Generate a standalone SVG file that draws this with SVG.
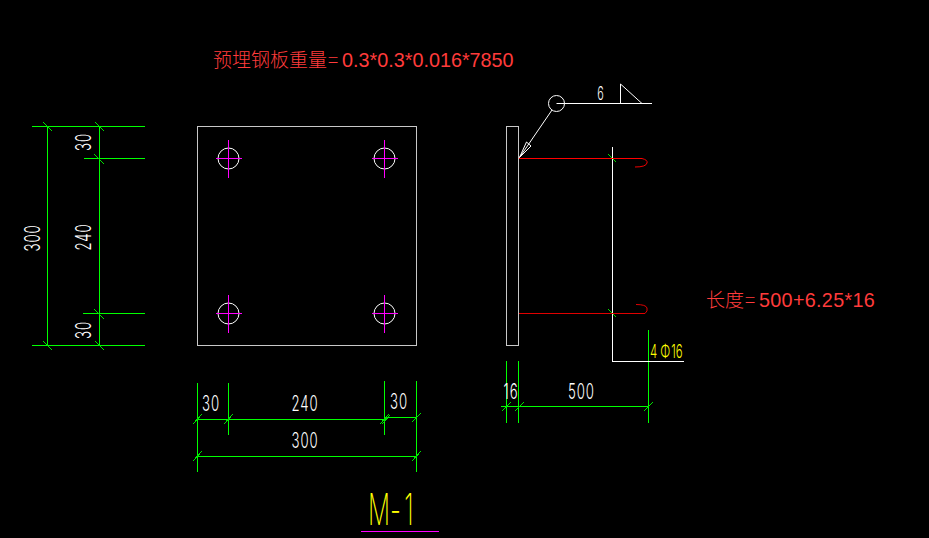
<svg xmlns="http://www.w3.org/2000/svg" width="929" height="538" viewBox="0 0 929 538">
<style>
.g{stroke:#00ff00;stroke-width:1;fill:none;shape-rendering:crispEdges}
.t{stroke:#00e000;stroke-width:1;fill:none;shape-rendering:crispEdges}
.w{stroke:#fff;stroke-width:1;fill:none;shape-rendering:crispEdges}
.p{stroke:#c8c8c8;stroke-width:1;fill:none;shape-rendering:crispEdges}
.m{stroke:#ff00ff;stroke-width:1;fill:none;shape-rendering:crispEdges}
.h{stroke:#fff;stroke-width:1;fill:none}
.d{font-family:"Inter","Liberation Sans",sans-serif;font-weight:300;font-size:22px;letter-spacing:1.5px;fill:#fff;text-anchor:middle}
.y{font-family:"Inter","Liberation Sans",sans-serif;font-weight:300;fill:#ffff00}
.r{font-family:"Liberation Sans","Noto Sans CJK SC",sans-serif;font-size:19.8px;fill:#ff3b3b}
.c{font-family:"Noto Sans CJK SC",sans-serif;font-size:19px;font-weight:300;fill:#ff3b3b}
</style>
<defs>
<g id="hole">
<circle r="10.5" class="h"/>
<path d="M-12.5 0H13.5M0 -18.5V19.5" class="m"/>
</g>
</defs>
<rect width="929" height="538" fill="#000"/>
<g id="connectors">
<path class="g" d="M32 126.5H145M84 158.5H145M83 313.5H145M32 345.5H145M47.5 126V346M99.5 126V346"/>
<path class="t" d="M43 122L52 131M95 122L104 131M94 154L104 164M94 309L104 319M43 341L52 350M95 341L104 350"/>
<path class="g" d="M197.5 383V472M228.5 383V435M384.5 381V435M416.5 381V472M197 419.5H385M385 417.5H417M197 456.5H417"/>
<path class="t" d="M193 424L202 414M224 424L233 414M380 424L389 414M382 424L390 415M412 422L421 413M193 461L202 451M412 461L421 451"/>
<path class="g" d="M506.5 361V423M518.5 361V423M648.5 330V423M501 406.5H649"/>
<path class="t" d="M502 411L511 402M515 411L524 402M644 411L653 402"/>
<path class="w" d="M612.5 147V361.5H684"/>
<path class="t" d="M608 154L616 162M608 309L616 317"/>
<path d="M519 158.5H642" stroke="#ff0000" stroke-width="1.4" fill="none" shape-rendering="crispEdges"/>
<path d="M642 158.5Q648 160 647 163Q646 167 635 167" stroke="#f00000" fill="none"/>
<path d="M519 313.5H645Q648 311 647 308Q646 304.5 636 304.5" stroke="#e00000" fill="none"/>
<path class="h" d="M556.5 103.5H652M620.5 84V103.500M620.5 84L642 103.5M552 110L519.5 157.5L526.5 142L531 146L519.5 157.5"/>
<path d="M361 531.5H439" class="m"/>
</g>
<g id="plate-front"><rect x="197.5" y="126.5" width="219" height="219" class="p"/></g>
<g id="plate-side"><rect x="506.5" y="126.5" width="12" height="219" class="p"/></g>
<g id="holes">
<use href="#hole" x="228.5" y="158.5"/>
<use href="#hole" x="384.5" y="158.5"/>
<use href="#hole" x="228.5" y="313.5"/>
<use href="#hole" x="384.5" y="313.5"/>
</g>
<g id="weld-circle"><circle cx="556.5" cy="103.5" r="8" class="h"/></g>
<g id="labels">
<text class="d" transform="translate(40,238) rotate(-90) scale(.6,1)">300</text>
<text class="d" transform="translate(91,142) rotate(-90) scale(.6,1)">30</text>
<text class="d" transform="translate(91,237) rotate(-90) scale(.6,1)">240</text>
<text class="d" transform="translate(91,330) rotate(-90) scale(.6,1)">30</text>
<text class="d" transform="translate(211,411) scale(.6,1)">30</text>
<text class="d" transform="translate(305,411) scale(.6,1)">240</text>
<text class="d" transform="translate(399,409) scale(.6,1)">30</text>
<text class="d" transform="translate(305,448) scale(.6,1)">300</text>
<text class="d" transform="translate(511,399) scale(.6,1)">16</text>
<text class="d" transform="translate(581.5,399) scale(.6,1)">500</text>
<text class="d" style="font-size:18px" transform="translate(601,100) scale(.6,1)">6</text>
<text class="y" font-size="19" transform="translate(650,358) scale(.6,1)">4<tspan dx="5">Φ</tspan><tspan dx="2">16</tspan></text>
<text class="y" style="font-weight:200" font-size="43" transform="translate(368,525) scale(.57,1)">M<tspan dx="0">-</tspan><tspan dx="6">1</tspan></text>
<text y="67"><tspan class="c" x="213">预埋钢板重量</tspan><tspan class="c" x="328">=</tspan><tspan class="r" x="342">0.3*0.3*0.016*7850</tspan></text>
<text y="307"><tspan class="c" x="706">长度</tspan><tspan class="c" x="745">=</tspan><tspan class="r" x="759" style="letter-spacing:.3px">500+6.25*16</tspan></text>
</g>
</svg>
